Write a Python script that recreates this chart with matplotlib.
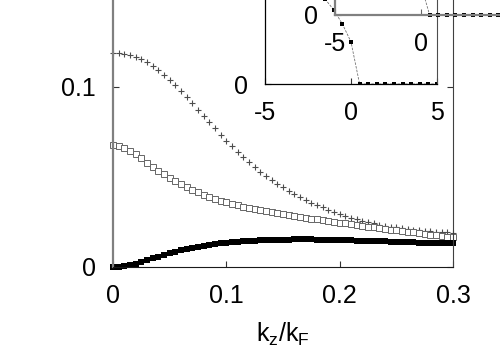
import numpy as np
import matplotlib
matplotlib.use("Agg")
import matplotlib.pyplot as plt

plt.rcParams['font.family'] = ['Liberation Sans', 'DejaVu Sans']
plt.rcParams['mathtext.fontset'] = 'custom'
plt.rcParams['mathtext.rm'] = 'Liberation Sans'

# ---- main panel data ----
kz = np.linspace(0.0, 0.3, 61)

cross_vals = [0.1190, 0.1189, 0.1185, 0.1178, 0.1168, 0.1155, 0.1138, 0.1118, 0.1095, 0.1068,
              0.1040, 0.1010, 0.0978, 0.0945, 0.0910, 0.0875, 0.0840, 0.0805, 0.0770, 0.0735,
              0.0702, 0.0672, 0.0641, 0.0611, 0.0583, 0.0556, 0.0530, 0.0506, 0.0483, 0.0462,
              0.0442, 0.0423, 0.0405, 0.0389, 0.0373, 0.0358, 0.0344, 0.0331, 0.0318, 0.0306,
              0.0295, 0.0284, 0.0274, 0.0265, 0.0257, 0.0249, 0.0242, 0.0236, 0.0230, 0.0225,
              0.0220, 0.0216, 0.0212, 0.0208, 0.0205, 0.0202, 0.0199, 0.0197, 0.0194, 0.0192,
              0.0190]

open_vals = [0.0678, 0.0672, 0.0662, 0.0646, 0.0626, 0.0603, 0.0580, 0.0557, 0.0535, 0.0514,
             0.0494, 0.0476, 0.0459, 0.0443, 0.0428, 0.0414, 0.0401, 0.0389, 0.0378, 0.0368,
             0.0359, 0.0351, 0.0343, 0.0336, 0.0329, 0.0322, 0.0316, 0.0310, 0.0304, 0.0299,
             0.0294, 0.0289, 0.0284, 0.0279, 0.0274, 0.0269, 0.0265, 0.0260, 0.0256, 0.0251,
             0.0247, 0.0242, 0.0238, 0.0233, 0.0229, 0.0225, 0.0220, 0.0216, 0.0212, 0.0208,
             0.0204, 0.0200, 0.0196, 0.0192, 0.0188, 0.0184, 0.0180, 0.0176, 0.0172, 0.0168,
             0.0164]

filled_vals = [0.0000, 0.0001, 0.0004, 0.0010, 0.0018, 0.0028, 0.0038, 0.0048, 0.0058, 0.0067,
               0.0076, 0.0085, 0.0093, 0.0100, 0.0107, 0.0113, 0.0118, 0.0123, 0.0127, 0.0131,
               0.0134, 0.0137, 0.0140, 0.0142, 0.0144, 0.0146, 0.0148, 0.0149, 0.0150, 0.0151,
               0.0152, 0.0152, 0.0153, 0.0153, 0.0153, 0.0153, 0.0152, 0.0152, 0.0151, 0.0151,
               0.0150, 0.0149, 0.0148, 0.0147, 0.0146, 0.0145, 0.0144, 0.0143, 0.0142, 0.0141,
               0.0140, 0.0139, 0.0138, 0.0137, 0.0136, 0.0135, 0.0134, 0.0133, 0.0132, 0.0132,
               0.0131]

main_xticks = [0, 0.1, 0.2, 0.3]
main_xticklabels = ['0', '0.1', '0.2', '0.3']
main_yticks = [0, 0.1]
main_yticklabels = ['0', '0.1']

# ---- inset data ----
inset_x = [-2.0, -1.5, -1.0, -0.5, 0.0, 0.5, 1.0, 1.5, 2.0, 2.5, 3.0, 3.5, 4.0, 4.5, 5.0]
inset_y = [6.0, 4.9, 4.28, 3.47, 2.43, 0, 0, 0, 0, 0, 0, 0, 0, 0, 0]
inset_xticks = [-5, 0, 5]
inset_xticklabels = ['-5', '0', '5']

inset2_x = [-1.0, -0.5, 0.0, 0.5, 1.0, 1.5, 2.0, 2.5, 3.0, 3.5, 4.0, 4.5, 5.0]
inset2_y = [3.6, 2.8, 1.75, 0, 0, 0, 0, 0, 0, 0, 0, 0, 0]
inset2_xticks = [-5, 0]
inset2_xticklabels = ['-5', '0']

FS = 18
fig = plt.figure(figsize=(5, 3.5), dpi=100)

ax = fig.add_axes([113/500, 83/350, 340/500, 360/350])
ax.plot(kz, cross_vals, linestyle='none', marker='+', ms=4.5, mew=0.8, color='0.3', clip_on=False)
ax.plot(kz, open_vals, linestyle='none', marker='s', ms=3.8, mew=0.7, mfc='white', mec='0.4', clip_on=False)
ax.plot(kz, filled_vals, linestyle='none', marker='s', ms=4.6, mew=0, color='black', clip_on=False)
ax.set_xlim(0, 0.3)
ax.set_ylim(0, 0.2)
ax.set_xticks(main_xticks)
ax.set_xticklabels(main_xticklabels)
ax.set_yticks(main_yticks)
ax.set_yticklabels(main_yticklabels)
ax.tick_params(direction='in', length=4, width=0.8, labelsize=FS, pad=12.5,
               right=True, top=True, color='0.2')
ax.spines['left'].set_color('0.5')
ax.spines['left'].set_linewidth(1.6)
ax.spines['bottom'].set_color('0.1')
ax.spines['right'].set_color('0.25')
ax.spines['top'].set_visible(False)
ax.set_xlabel(r'k$_\mathregular{z}$/k$_\mathregular{F}$', fontsize=FS, labelpad=9)

# inset 1
ins = fig.add_axes([265/500, 266/350, 172/500, 173/350])
ins.set_facecolor('white')
ins.plot(inset_x, inset_y, linestyle=(0, (3, 1.5)), lw=0.6, color='0.45', marker='s', ms=3.4,
         mfc='black', mec='black', mew=0)
ins.set_xlim(-5, 5)
ins.set_ylim(0, 10)
ins.set_xticks(inset_xticks)
ins.set_xticklabels(inset_xticklabels)
ins.set_yticks([0])
ins.set_yticklabels(['0'])
ins.tick_params(direction='in', length=4, width=0.8, labelsize=FS, pad=12.5, color='0.2')
for s in ['left', 'bottom']:
    ins.spines[s].set_color('black')
    ins.spines[s].set_linewidth(0.9)
ins.spines['right'].set_color('0.3')
ins.spines['top'].set_visible(False)

# inset 2 (partially visible)
ins2 = fig.add_axes([335/500, 335/350, 172/500, 173/350])
ins2.set_facecolor('none')
ins2.plot(inset2_x, inset2_y, linestyle=(0, (3, 1.5)), lw=0.6, color='0.45', marker='s', ms=3.4,
          mfc='black', mec='black', mew=0, clip_on=False)
ins2.set_xlim(-5, 5)
ins2.set_ylim(0, 10)
ins2.set_xticks(inset2_xticks)
ins2.set_xticklabels(inset2_xticklabels)
ins2.set_yticks([0])
ins2.set_yticklabels(['0'])
ins2.tick_params(direction='in', length=4, width=0.8, labelsize=FS, pad=12.5, color='0.4')
for s in ['left', 'bottom']:
    ins2.spines[s].set_color('0.5')
    ins2.spines[s].set_linewidth(1.6)
ins2.spines['right'].set_visible(False)
ins2.spines['top'].set_visible(False)

fig.savefig('out.png', dpi=100)
